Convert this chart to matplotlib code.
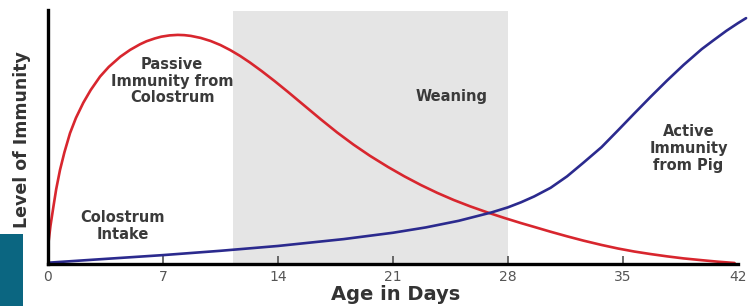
import matplotlib
matplotlib.use("Agg")
import matplotlib.pyplot as plt
from matplotlib.patches import Rectangle

# Data
passive_days = [0, 0.15, 0.33, 0.5, 0.73, 1.0, 1.34, 1.7, 2.15, 2.6, 3.17, 3.7, 4.4, 5.0,
                5.6, 6.0, 6.5, 6.9, 7.4, 7.9, 8.3, 8.7, 9.3, 9.9, 10.5, 11.1, 11.7, 12.3,
                13.0, 13.8, 14.6, 15.6, 16.6, 17.6, 18.6, 19.6, 20.7, 21.7, 22.7, 23.7,
                24.7, 25.7, 26.8, 27.8, 28.8, 29.6, 30.6, 31.6, 32.6, 33.7, 34.7, 35.7,
                36.7, 37.7, 38.7, 39.8, 40.8, 41.8]
passive_level = [6.8, 15, 22.6, 29.5, 37, 44, 51.5, 57.5, 63.5, 68.5, 73.8, 77.6, 81.6, 84.3,
                 86.5, 87.7, 88.8, 89.5, 90, 90.2, 90.1, 89.8, 89, 87.8, 86.2, 84.2, 81.9, 79.3,
                 76, 72, 67.8, 62.4, 57, 51.8, 47, 42.6, 38.2, 34.5, 31.1, 28,
                 25.2, 22.7, 20.2, 18.1, 16.1, 14.6, 12.7, 10.9, 9.2, 7.5, 6.1, 4.9,
                 3.9, 3.0, 2.2, 1.5, 0.9, 0.4]

active_days = [0, 3, 7, 10.5, 14, 18, 21, 23, 25, 27, 28, 28.8, 29.6, 30.6, 31.6, 32.6,
               33.7, 34.7, 35.7, 36.7, 37.7, 38.7, 39.8, 40.5, 41.3, 42.0, 42.5]
active_level = [0.5, 1.8, 3.5, 5.2, 7.1, 9.8, 12.3, 14.4, 17.0, 20.3, 22.3, 24.3, 26.6,
                30.0, 34.5, 39.9, 46.0, 52.6, 59.3, 65.9, 72.3, 78.4, 84.6, 88.0, 91.8,
                94.8, 96.8]

weaning_start, weaning_end = 11.25, 28
xticks = [0, 7, 14, 21, 28, 35, 42]

fig = plt.figure(figsize=(7.51, 3.06), dpi=100)
ax = fig.add_axes([48/751, 42/306, 1 - 48/751, 254/306])
ax.set_xlim(0, 42.8)
ax.set_ylim(0, 100)

ax.axvspan(weaning_start, weaning_end, ymin=0, ymax=0.997, color="#e5e5e5", zorder=0, lw=0)

ax.plot(passive_days, passive_level, color="#d8262e", lw=1.9, zorder=3,
        solid_capstyle="round", solid_joinstyle="round")
ax.plot(active_days, active_level, color="#2b2a8e", lw=1.9, zorder=3,
        solid_capstyle="round", solid_joinstyle="round")

for s in ["top", "right"]:
    ax.spines[s].set_visible(False)
ax.spines["left"].set_linewidth(2.4)
ax.spines["bottom"].set_linewidth(2.4)
ax.spines["bottom"].set_bounds(0, 42)
ax.spines["left"].set_zorder(5)
ax.spines["bottom"].set_zorder(5)

ax.set_yticks([])
ax.set_xticks(xticks)
ax.set_xticklabels([str(t) for t in xticks])
ax.tick_params(axis="x", direction="in", length=6, width=1.1, color="#444444",
               labelsize=10, labelcolor="#555555", pad=4)
ticks = ax.xaxis.get_major_ticks()
ticks[0].tick1line.set_visible(False)
ticks[-1].tick1line.set_visible(False)

txt = dict(fontweight="bold", color="#3a3a3a", fontsize=10.5, ha="center", va="center",
           family="DejaVu Sans", linespacing=1.15)
ax.text(7.55, 72, "Passive\nImmunity from\nColostrum", **txt)
ax.text(24.6, 66, "Weaning", **txt)
ax.text(39.0, 45.5, "Active\nImmunity\nfrom Pig", **txt)
ax.text(4.55, 15.0, "Colostrum\nIntake", **txt)

fig.text(22/751, 1 - 140/306, "Level of Immunity", rotation=90, ha="center", va="center",
         fontsize=12.5, fontweight="bold", color="#333333")
fig.text(396/751, 1 - 295/306, "Age in Days", ha="center", va="center",
         fontsize=14, fontweight="bold", color="#333333")

fig.patches.append(Rectangle((0, 0), 23/751, 72/306, transform=fig.transFigure,
                             facecolor="#0b6681", edgecolor="none", zorder=10))

fig.savefig("out.png", dpi=100)
